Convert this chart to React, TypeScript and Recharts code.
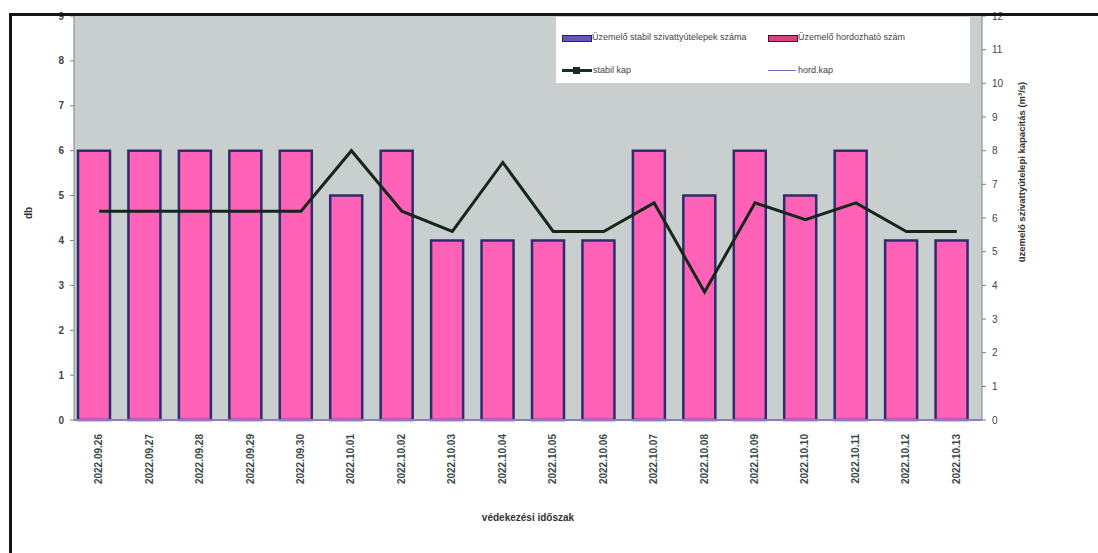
import { ComposedChart, Bar, Line, XAxis, YAxis } from 'recharts';

const dates = [
  '2022.09.26', '2022.09.27', '2022.09.28', '2022.09.29', '2022.09.30', '2022.10.01',
  '2022.10.02', '2022.10.03', '2022.10.04', '2022.10.05', '2022.10.06', '2022.10.07',
  '2022.10.08', '2022.10.09', '2022.10.10', '2022.10.11', '2022.10.12', '2022.10.13',
];
// üzemelő szivattyútelepek (db)
const stabilCount = [6, 6, 6, 6, 6, 5, 6, 4, 4, 4, 4, 6, 5, 6, 5, 6, 4, 4];
const hordCount = [0, 0, 0, 0, 0, 0, 0, 0, 0, 0, 0, 0, 0, 0, 0, 0, 0, 0];
// kapacitás (m³/s)
const stabilCap = [6.2, 6.2, 6.2, 6.2, 6.2, 8.0, 6.2, 5.6, 7.65, 5.6, 5.6, 6.45, 3.8, 6.45, 5.95, 6.45, 5.6, 5.6];
const hordCap = [0, 0, 0, 0, 0, 0, 0, 0, 0, 0, 0, 0, 0, 0, 0, 0, 0, 0];

const leftTicks = [0, 1, 2, 3, 4, 5, 6, 7, 8, 9];
const rightTicks = [0, 1, 2, 3, 4, 5, 6, 7, 8, 9, 10, 11, 12];

const data = dates.map((d, i) => ({
  date: d,
  stabil: stabilCount[i],
  hord: hordCount[i],
  stabilKap: stabilCap[i],
  hordKap: hordCap[i],
}));

const FONT = '"Liberation Sans", Arial, sans-serif';

function DateTick({ x, y, payload }: any) {
  return (
    <text
      x={x}
      y={y}
      transform={`rotate(-90, ${x}, ${y})`}
      dx={-6}
      dy={3}
      textAnchor="end"
      fontSize={10}
      fontFamily={FONT}
      fontWeight="bold"
      fill="#3a4a4a"
    >
      {payload.value}
    </text>
  );
}

function Legend() {
  const text = { fontSize: 9, fontFamily: FONT, color: '#444', position: 'absolute' as const, whiteSpace: 'nowrap' as const };
  return (
    <div style={{ position: 'absolute', left: 556, top: 17, width: 414, height: 66, background: '#fff' }}>
      <div style={{ position: 'absolute', left: 6, top: 18, width: 28, height: 5, background: '#6258c0', border: '1px solid #2a2060' }} />
      <div style={{ ...text, left: 36, top: 15 }}>Üzemelő stabil szivattyútelepek száma</div>
      <div style={{ position: 'absolute', left: 212, top: 18, width: 28, height: 5, background: '#e0407a', border: '1px solid #4a1030' }} />
      <div style={{ ...text, left: 242, top: 15 }}>Üzemelő hordozható szám</div>
      <div style={{ position: 'absolute', left: 6, top: 52, width: 30, height: 3, background: '#15301f' }} />
      <div style={{ position: 'absolute', left: 17, top: 50, width: 7, height: 7, background: '#15301f' }} />
      <div style={{ ...text, left: 37, top: 48 }}>stabil kap</div>
      <div style={{ position: 'absolute', left: 212, top: 53, width: 28, height: 1, background: '#7a68c0' }} />
      <div style={{ ...text, left: 242, top: 48 }}>hord.kap</div>
    </div>
  );
}

export default function App() {
  return (
    <div style={{ position: 'absolute', left: 0, top: 0, width: 1098, height: 553, background: '#fff', overflow: 'hidden' }}>
      <ComposedChart
        width={1098}
        height={553}
        data={data}
        margin={{ top: 16, right: 0, bottom: 0, left: 0 }}
        barSize={32}
        barGap={-21}
      >
        <rect x={74} y={16} width={908} height={404} fill="#c8cfce" />
        <XAxis
          dataKey="date"
          height={133}
          interval={0}
          tick={<DateTick />}
          tickLine={false}
          axisLine={{ stroke: '#8a7cc8', strokeWidth: 2 }}
        />
        <YAxis
          yAxisId="left"
          width={74}
          domain={[0, 9]}
          ticks={leftTicks}
          tickSize={4}
          tickMargin={6}
          interval={0}
          tick={{ fontSize: 10, fontFamily: FONT, fontWeight: 'bold', fill: '#444' }}
          axisLine={{ stroke: '#808080' }}
          tickLine={{ stroke: '#808080' }}
        />
        <YAxis
          yAxisId="right"
          orientation="right"
          width={116}
          domain={[0, 12]}
          ticks={rightTicks}
          tickSize={4}
          tickMargin={6}
          interval={0}
          tick={{ fontSize: 10, fontFamily: FONT, fill: '#444', textAnchor: 'start' }}
          axisLine={{ stroke: '#808080' }}
          tickLine={{ stroke: '#808080' }}
        />
        <Bar
          yAxisId="left"
          dataKey="stabil"
          name="Üzemelő stabil szivattyútelepek száma"
          fill="#ff62b6"
          stroke="#2e2c6c"
          strokeWidth={2.5}
          isAnimationActive={false}
        />
        <Bar
          yAxisId="left"
          dataKey="hord"
          name="Üzemelő hordozható szám"
          fill="#3a5cb0"
          isAnimationActive={false}
        />
        <Line
          yAxisId="right"
          dataKey="hordKap"
          name="hord.kap"
          stroke="#7a68c0"
          strokeWidth={1.5}
          dot={false}
          isAnimationActive={false}
        />
        <Line
          yAxisId="right"
          dataKey="stabilKap"
          name="stabil kap"
          stroke="#15261a"
          strokeWidth={3}
          dot={false}
          isAnimationActive={false}
        />
      </ComposedChart>
      <Legend />
      <div
        style={{
          position: 'absolute', left: 28, top: 213, transform: 'translate(-50%, -50%) rotate(-90deg)',
          fontSize: 10, fontFamily: FONT, fontWeight: 'bold', color: '#333', whiteSpace: 'nowrap',
        }}
      >
        db
      </div>
      <div
        style={{
          position: 'absolute', left: 1021, top: 172, transform: 'translate(-50%, -50%) rotate(-90deg)',
          fontSize: 9.5, fontFamily: FONT, fontWeight: 'bold', color: '#333', whiteSpace: 'nowrap',
        }}
      >
        üzemelő szivattyútelepi kapacitás (m³/s)
      </div>
      <div
        style={{
          position: 'absolute', left: 528, top: 517, transform: 'translate(-50%, -50%)',
          fontSize: 10, fontFamily: FONT, fontWeight: 'bold', color: '#333', whiteSpace: 'nowrap',
        }}
      >
        védekezési időszak
      </div>
      <div
        style={{
          position: 'absolute', left: 9, top: 13, width: 1095, height: 545,
          borderTop: '3px solid #151515', borderLeft: '3px solid #151515', pointerEvents: 'none',
        }}
      />
    </div>
  );
}
